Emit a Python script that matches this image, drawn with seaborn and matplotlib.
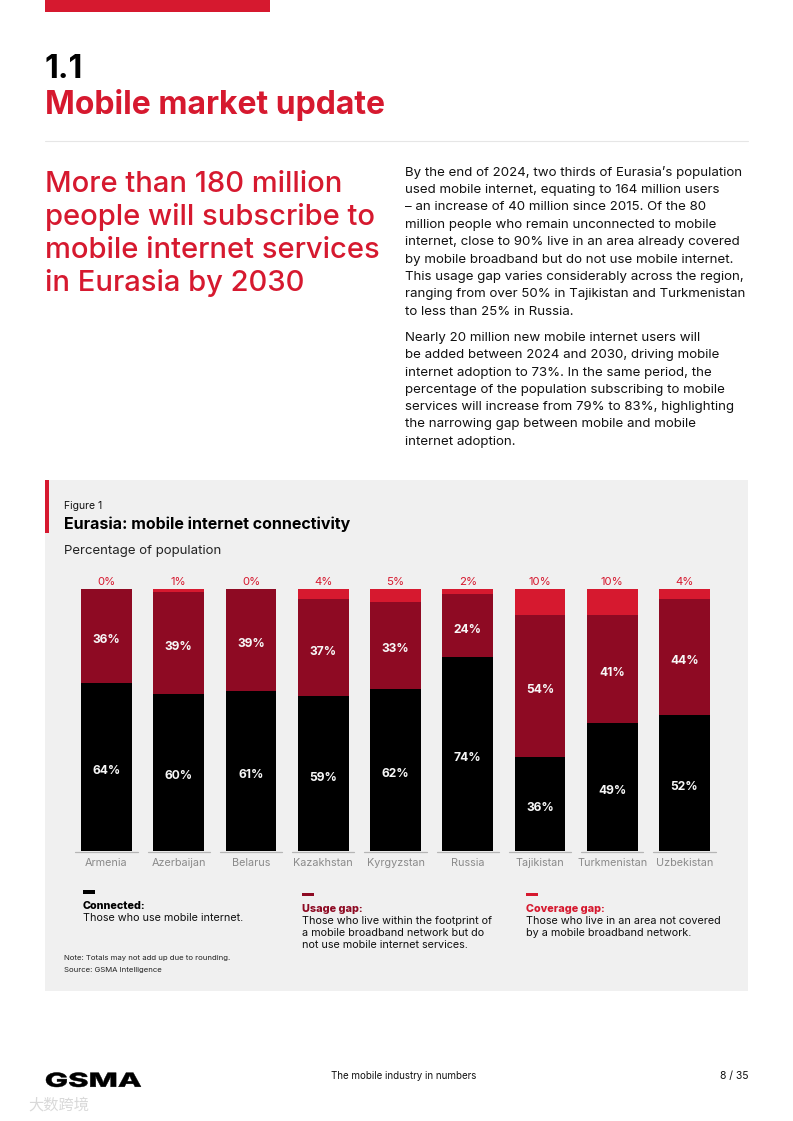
import matplotlib
matplotlib.use("Agg")
import matplotlib.pyplot as plt
from matplotlib.patches import Rectangle, PathPatch
from matplotlib.textpath import TextPath
from matplotlib.font_manager import FontProperties
from matplotlib.transforms import Affine2D
import seaborn as sns
import pandas as pd

# data
countries = ["Armenia", "Azerbaijan", "Belarus", "Kazakhstan", "Kyrgyzstan",
             "Russia", "Tajikistan", "Turkmenistan", "Uzbekistan"]
connected = [64, 60, 61, 59, 62, 74, 36, 49, 52]
usage_gap = [36, 39, 39, 37, 33, 24, 54, 41, 44]
coverage_gap = [0, 1, 0, 4, 5, 2, 10, 10, 4]

BLACK = "#000000"
DARK_RED = "#8e0a23"
RED = "#d6192f"
PANEL = "#f0f0f0"

W, H = 793, 1121

sns.set_theme(style="white")
plt.rcParams["font.family"] = ["Inter", "DejaVu Sans"]

fig = plt.figure(figsize=(W / 100, H / 100), dpi=100)
fig.patch.set_facecolor("white")


def ft(x, y, s, **kw):
    kw.setdefault("va", "center")
    return fig.text(x / W, 1 - y / H, s, **kw)


def rect(x0, y0, x1, y1, color, z=0):
    fig.patches.append(Rectangle((x0 / W, 1 - y1 / H), (x1 - x0) / W, (y1 - y0) / H,
                                 transform=fig.transFigure, facecolor=color,
                                 edgecolor="none", zorder=z))


# =====================================================
# Page header
# =====================================================
rect(45, 0, 270, 12, RED)
ft(45, 70, "1.1", fontsize=23, fontweight="bold", color="black")
ft(45, 105, "Mobile market update", fontsize=23, fontweight="bold", color=RED)
fig.add_artist(plt.Line2D([45 / W, 748 / W], [1 - 141 / H, 1 - 141 / H],
                          transform=fig.transFigure, color="#e6e6e6", lw=0.8))

headline = ["More than 180 million", "people will subscribe to",
            "mobile internet services", "in Eurasia by 2030"]
for i, line in enumerate(headline):
    ft(45, 184 + i * 33, line, fontsize=21, fontweight="medium", color=RED)

para1 = ["By the end of 2024, two thirds of Eurasia\u2019s population",
         "used mobile internet, equating to 164 million users",
         "\u2013 an increase of 40 million since 2015. Of the 80",
         "million people who remain unconnected to mobile",
         "internet, close to 90% live in an area already covered",
         "by mobile broadband but do not use mobile internet.",
         "This usage gap varies considerably across the region,",
         "ranging from over 50% in Tajikistan and Turkmenistan",
         "to less than 25% in Russia."]
para2 = ["Nearly 20 million new mobile internet users will",
         "be added between 2024 and 2030, driving mobile",
         "internet adoption to 73%. In the same period, the",
         "percentage of the population subscribing to mobile",
         "services will increase from 79% to 83%, highlighting",
         "the narrowing gap between mobile and mobile",
         "internet adoption."]
for i, line in enumerate(para1):
    ft(405, 172.5 + i * 17.4, line, fontsize=9.55, color="#111111")
for i, line in enumerate(para2):
    ft(405, 338 + i * 17.3, line, fontsize=9.55, color="#111111")

# =====================================================
# Figure panel
# =====================================================
rect(45, 480, 748, 991, PANEL)
rect(45, 480, 49, 533, RED, z=1)
ft(64, 506, "Figure 1", fontsize=7.5, color="#111111")
ft(64, 524, "Eurasia: mobile internet connectivity", fontsize=11.5,
   fontweight="bold", color="black")
ft(64, 551, "Percentage of population", fontsize=9.5, color="#222222")

# bar axes
x_left, x_right = 70.4, 720.6
y_bottom, y_top = 851, 589
ax = fig.add_axes([x_left / W, 1 - y_bottom / H, (x_right - x_left) / W,
                   (y_bottom - y_top) / H])
ax.set_zorder(5)
ax.set_facecolor("none")

df = pd.DataFrame({
    "country": countries,
    "connected": connected,
    "usage": usage_gap,
    "coverage": coverage_gap,
})
df["top_usage"] = df["connected"] + df["usage"]
df["top_all"] = df["top_usage"] + df["coverage"]

for col, color in [("top_all", RED), ("top_usage", DARK_RED), ("connected", BLACK)]:
    sns.barplot(data=df, x="country", y=col, color=color, width=0.705,
                saturation=1, ax=ax, linewidth=0, errorbar=None)

for i, row in df.iterrows():
    ax.text(i, row["connected"] / 2 - 1.5, f"{row['connected']}%", ha="center",
            va="center", color="#f7f7f7", fontsize=8.7, fontweight="bold")
    ax.text(i, row["connected"] + row["usage"] / 2 - 1.5, f"{row['usage']}%",
            ha="center", va="center", color="#f7f7f7", fontsize=8.7,
            fontweight="bold")
    ax.text(i, row["top_all"] + 0.9, f"{row['coverage']}%", ha="center",
            va="bottom", color=RED, fontsize=8.2)
    ax.plot([i - 0.43, i + 0.43], [-0.3, -0.3], color="#b5b5b5", lw=0.9,
            clip_on=False)

ax.set_xlim(-0.5, len(countries) - 0.5)
ax.set_ylim(0, 100)
ax.set_xlabel("")
ax.set_ylabel("")
ax.set_yticks([])
ax.set_xticks(range(len(countries)))
ax.set_xticklabels(countries, fontsize=7.8, color="#8a8a8a")
ax.tick_params(axis="x", length=0, pad=5)
sns.despine(ax=ax, left=True, bottom=True)

# legend
legend = [
    (83, BLACK, "Connected:", 906,
     ["Those who use mobile internet."]),
    (302, DARK_RED, "Usage gap:", 908.5,
     ["Those who live within the footprint of",
      "a mobile broadband network but do",
      "not use mobile internet services."]),
    (526, RED, "Coverage gap:", 908.5,
     ["Those who live in an area not covered",
      "by a mobile broadband network."]),
]
for x, color, title, ty, lines in legend:
    rect(x, ty - 16, x + 12, ty - 12.5, color, z=1)
    ft(x, ty, title, fontsize=7.8, fontweight="heavy", color=color)
    for j, line in enumerate(lines):
        ft(x, ty + 12.3 * (j + 1), line, fontsize=7.8, color="#111111")

ft(64, 958, "Note: Totals may not add up due to rounding.", fontsize=5.6,
   color="#222222")
ft(64, 970, "Source: GSMA Intelligence", fontsize=5.6, color="#222222")

# =====================================================
# Footer
# =====================================================
# wide GSMA wordmark, stretched to the logo box
tp = TextPath((0, 0), "GSMA", size=10,
              prop=FontProperties(family="Inter", weight="heavy"))
bb = tp.get_extents()
logo_x0, logo_x1, logo_y0, logo_y1 = 46, 141, 1072.5, 1087
sx = (logo_x1 - logo_x0) / bb.width
sy = (logo_y1 - logo_y0) / bb.height
logo_tr = (Affine2D().translate(-bb.x0, -bb.y0).scale(sx, sy)
           .translate(logo_x0, H - logo_y1).scale(1 / W, 1 / H) + fig.transFigure)
fig.patches.append(PathPatch(tp, transform=logo_tr, facecolor="black",
                             edgecolor="black", linewidth=0.3))

ft(331, 1076, "The mobile industry in numbers", fontsize=7, color="#111111")
ft(748, 1076, "8 / 35", fontsize=7.5, color="#111111", ha="right")
ft(28, 1105, "大数跨境", fontsize=11, color="#d9d9d9",
   family=["Noto Sans CJK SC", "DejaVu Sans"])

fig.savefig("out.png", dpi=100, facecolor="white")
